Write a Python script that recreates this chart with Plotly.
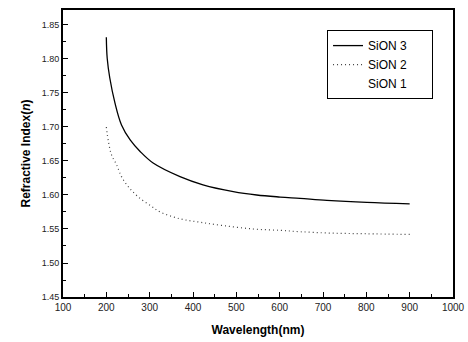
import plotly.graph_objects as go

# SiON 3 (solid)
wl3 = [200, 202, 208, 220, 235, 255, 278, 308, 370, 423, 493, 547, 601, 647, 709, 801, 900]
n3 = [1.832, 1.801, 1.772, 1.735, 1.703, 1.681, 1.664, 1.647, 1.627, 1.615, 1.605, 1.600,
      1.597, 1.595, 1.592, 1.589, 1.587]

# SiON 2 (dotted)
wl2 = [200, 205, 212, 224, 235, 251, 274, 305, 324, 370, 416, 470, 539, 601, 647, 716, 800, 900]
n2 = [1.700, 1.678, 1.659, 1.644, 1.627, 1.612, 1.597, 1.583, 1.575, 1.565, 1.560, 1.555,
      1.550, 1.548, 1.546, 1.544, 1.543, 1.542]

# SiON 1 (no visible data in the figure; legend entry only)
wl1 = [None]
n1 = [None]

x_ticks = [100, 200, 300, 400, 500, 600, 700, 800, 900, 1000]
y_ticks = [1.45, 1.50, 1.55, 1.60, 1.65, 1.70, 1.75, 1.80, 1.85]

pad = "&nbsp;" * 6

fig = go.Figure()
fig.add_trace(go.Scatter(x=wl3, y=n3, mode="lines", name="SiON 3" + pad,
                         line=dict(color="black", width=1.3, shape="spline")))
fig.add_trace(go.Scatter(x=wl2, y=n2, mode="lines", name="SiON 2",
                         line=dict(color="#444444", width=1.2, dash="1px,3px", shape="spline")))
fig.add_trace(go.Scatter(x=wl1, y=n1, mode="lines", name="SiON 1", showlegend=True,
                         line=dict(color="rgba(255,255,255,0)", width=1)))

font_family = "Liberation Sans, Arial, sans-serif"

fig.update_layout(
    width=468, height=342,
    margin=dict(l=63, r=15, t=10, b=45),
    paper_bgcolor="white", plot_bgcolor="white",
    font=dict(family=font_family, color="black"),
    showlegend=True,
    legend=dict(x=0.677, y=0.93, xanchor="left", yanchor="top",
                bordercolor="black", borderwidth=1, bgcolor="white",
                font=dict(size=12, family=font_family, color="black"),
                itemwidth=30, tracegroupgap=0),
)
fig.update_xaxes(
    range=[100, 1000], tickvals=x_ticks, ticktext=[str(v) for v in x_ticks],
    ticks="inside", ticklen=5, tickwidth=1.2, tickcolor="black",
    minor=dict(dtick=50, ticks="inside", ticklen=3, tickcolor="black"),
    showline=True, linecolor="black", linewidth=2, mirror=True,
    showgrid=False, zeroline=False, automargin=False,
    tickfont=dict(size=10, color="#222222"),
    title=dict(text="<b>Wavelength(nm)</b>", font=dict(size=12), standoff=14),
)
fig.update_yaxes(
    range=[1.45, 1.872], tickvals=y_ticks, ticktext=[f"{v:.2f}" for v in y_ticks],
    ticks="inside", ticklen=5, tickwidth=1.2, tickcolor="black",
    minor=dict(dtick=0.025, tick0=1.45, ticks="inside", ticklen=3, tickcolor="black"),
    showline=True, linecolor="black", linewidth=2, mirror=True,
    showgrid=False, zeroline=False, automargin=False,
    tickfont=dict(size=9, color="#222222"),
    title=dict(text="<b>Refractive Index(<i>n</i>)</b>", font=dict(size=12), standoff=8),
)

fig.write_html("out.html", config={"displayModeBar": False},
               post_script="document.body.style.margin='0';")
